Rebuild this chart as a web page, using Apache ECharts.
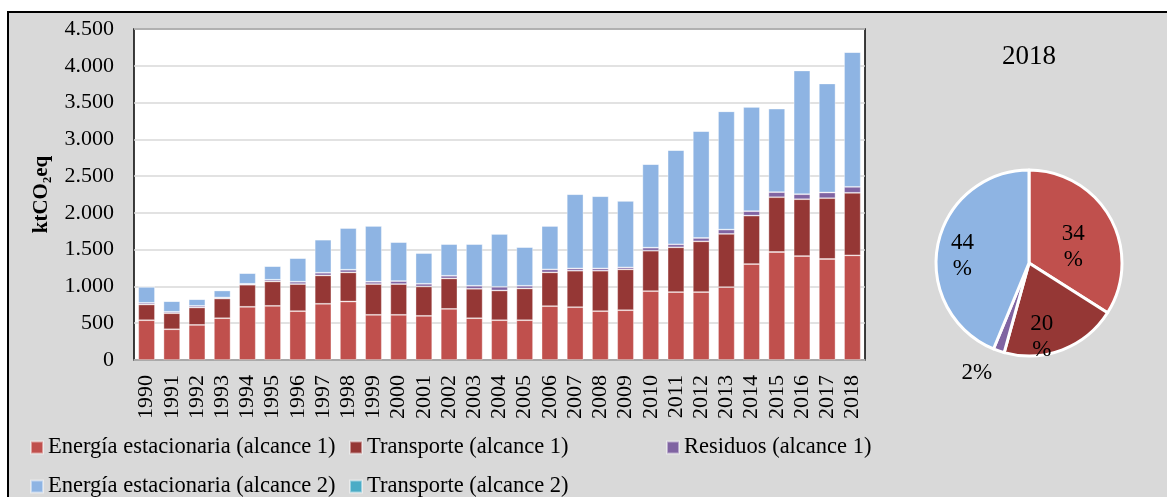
<!DOCTYPE html>
<html>
<head>
<meta charset="utf-8">
<script src="https://cdn.jsdelivr.net/npm/echarts@6/dist/echarts.min.js"></script>
<style>
  html, body { margin: 0; padding: 0; background: #fff; }
  #wrap { position: relative; width: 1167px; height: 497px; overflow: hidden; }
  #bg { position: absolute; left: 7px; top: 11px; width: 1200px; height: 520px;
        background: #d9d9d9; border-left: 2px solid #000; border-top: 2px solid #000; box-sizing: border-box; }
  #chart { position: absolute; left: 0; top: 0; width: 1167px; height: 497px; }
</style>
</head>
<body>
<div id="wrap"><div id="bg"></div><div id="chart"></div></div>
<script>
const years = ['1990','1991','1992','1993','1994','1995','1996','1997','1998','1999','2000','2001','2002','2003','2004','2005','2006','2007','2008','2009','2010','2011','2012','2013','2014','2015','2016','2017','2018'];
const energia1 = [541,418,477,568,723,736,664,764,795,614,614,600,695,568,541,541,732,718,664,677,936,923,923,991,1304,1468,1413,1373,1423];
const transporte1 = [214,218,237,268,300,332,368,386,396,418,418,400,414,400,404,432,459,496,550,555,550,609,690,723,659,745,773,827,850];
const residuos1 = [22,19,22,14,13,23,32,36,36,32,41,36,36,41,50,36,41,31,31,27,41,41,46,59,60,69,68,77,81];
const energia2 = [218,145,91,95,146,186,322,450,568,759,531,419,432,568,719,527,591,1009,982,905,1136,1281,1454,1608,1418,1136,1682,1482,1832];
const transporte2 = [0,0,0,0,0,0,0,0,0,0,0,0,0,0,0,0,0,0,0,0,0,0,0,0,0,0,0,0,0];
const yTicks = [0,500,1000,1500,2000,2500,3000,3500,4000,4500];
const pieYear = '2018';

const names = ['Energía estacionaria (alcance 1)','Transporte (alcance 1)','Residuos (alcance 1)','Energía estacionaria (alcance 2)','Transporte (alcance 2)'];
const colors = ['#c0504d','#953735','#8064a2','#8eb4e3','#4bacc6'];
const seriesData = [energia1, transporte1, residuos1, energia2, transporte2];
const FF = 'Liberation Serif';

const fmt = v => String(v).replace(/\B(?=(\d{3})+(?!\d))/g, '.');

const barSeries = seriesData.map((d, i) => ({
  name: names[i],
  type: 'bar',
  stack: 'total',
  data: d,
  barCategoryGap: '34%',
  itemStyle: { color: colors[i], borderColor: 'rgba(255,255,255,0.45)', borderWidth: 0.8 }
}));

const yi = years.indexOf(pieYear);
const pieData = seriesData.map((d, i) => ({ name: names[i], value: d[yi], itemStyle: { color: colors[i] } }))
  .filter(p => p.value > 0);

const labelShift = [[1, 8], [-5, 28], [-36, 63], [-18, 3]];

const legendPos = [[30, 436], [349, 436], [666, 436], [30, 475], [349, 475]];
const legends = names.map((n, i) => ({
  data: [n], left: legendPos[i][0], top: legendPos[i][1], padding: 0,
  itemWidth: 12, itemHeight: 12, icon: 'rect',
  textStyle: { fontFamily: FF, fontSize: 22.5, color: '#000' }
}));

const chart = echarts.init(document.getElementById('chart'));
chart.setOption({
  backgroundColor: 'transparent',
  animation: false,
  title: { text: pieYear, left: 1002, top: 43, padding: 0,
    textStyle: { fontFamily: FF, fontSize: 27, fontWeight: 'normal', color: '#000' } },
  legend: legends,
  grid: { left: 134, right: 302, top: 29, bottom: 137, show: true, backgroundColor: '#fff',
    borderColor: '#000', borderWidth: 1.5 },
  xAxis: {
    type: 'category', data: years,
    axisLine: { lineStyle: { color: '#a6a6a6', width: 1.5 } },
    axisTick: { show: false },
    axisLabel: { interval: 0, rotate: 90, margin: 15, fontFamily: FF, fontSize: 22, color: '#000' }
  },
  yAxis: {
    type: 'value', min: yTicks[0], max: yTicks[yTicks.length - 1], interval: yTicks[1] - yTicks[0],
    name: 'ktCO₂eq', nameLocation: 'middle', nameGap: 82,
    nameTextStyle: { fontFamily: FF, fontSize: 21, fontWeight: 'bold', color: '#000' },
    axisLine: { show: false }, axisTick: { show: false },
    splitLine: { lineStyle: { color: '#d9d9d9', width: 1.5 } },
    axisLabel: { margin: 20, fontFamily: FF, fontSize: 22, color: '#000', formatter: v => fmt(v) }
  },
  series: barSeries.concat([{
    type: 'pie',
    center: [1029, 263],
    radius: 93,
    startAngle: 90,
    clockwise: true,
    percentPrecision: 0,
    data: pieData,
    itemStyle: { borderColor: '#fff', borderWidth: 3 },
    label: {
      position: 'inside', fontFamily: FF, fontSize: 23, color: '#000', lineHeight: 26, align: 'center',
      formatter: p => p.percent < 5 ? p.percent + '%' : p.percent + '\n%'
    },
    labelLine: { show: false },
    labelLayout: p => ({ dx: labelShift[p.dataIndex][0], dy: labelShift[p.dataIndex][1] }),
    emphasis: { disabled: true }
  }])
});
</script>
</body>
</html>
